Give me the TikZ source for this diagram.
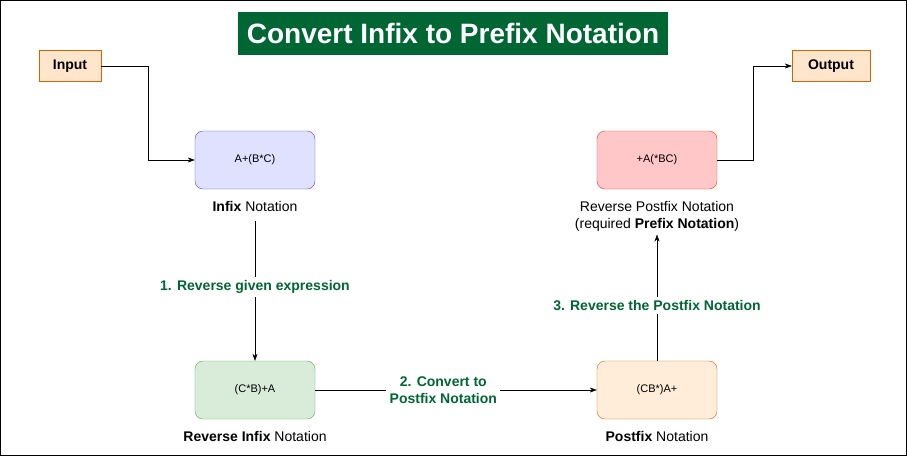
\documentclass[tikz,border=0pt]{standalone}
\usepackage{fontspec}
\setmainfont{Liberation Sans}
\usetikzlibrary{arrows.meta}
\definecolor{tgreen}{HTML}{006633}
\begin{document}
\begin{tikzpicture}[x=1pt,y=-1pt,
  box/.style={draw,rounded corners=8pt,minimum width=120pt,minimum height=58pt,font=\fontsize{11}{13}\selectfont},
  lbl/.style={font=\fontsize{14}{17}\selectfont,align=center},
  stp/.style={font=\fontsize{14}{17}\selectfont\bfseries,text=tgreen,align=center,fill=white},
  arr/.style={-{Stealth[length=7pt,width=5pt]}}]
\draw[line width=1pt] (0.5,0.5) rectangle (906.5,455.5);
\node[fill=tgreen,minimum width=430pt,minimum height=43pt,text=white,font=\fontsize{28}{32}\selectfont\bfseries] (title) at (453,33) {Convert Infix to Prefix Notation};
\node[draw=orange!80!black,fill=orange!20,minimum width=62pt,minimum height=31pt,font=\fontsize{14}{16}\selectfont\bfseries] (in) at (70,66) {Input};
\node[draw=orange!80!black,fill=orange!20,minimum width=78pt,minimum height=31pt,font=\fontsize{14}{16}\selectfont\bfseries] (out) at (831,66) {Output};
\node[box,draw=blue!40!gray,fill=blue!12] (inf) at (255,160) {A+(B*C)};
\node[lbl] (infl) at (255,206) {\textbf{Infix} Notation};
\node[box,draw=green!40!gray,fill=green!50!black!15] (rinf) at (255,390) {(C*B)+A};
\node[lbl] (rinfl) at (255,436) {\textbf{Reverse Infix} Notation};
\node[box,draw=orange!80!black,fill=orange!15] (post) at (657,390) {(CB*)A+};
\node[lbl] (postl) at (657,436) {\textbf{Postfix} Notation};
\node[box,draw=red!50!brown,fill=red!22] (pre) at (657,160) {+A(*BC)};
\node[lbl] (prel) at (657,216) {Reverse Postfix Notation\\(required \textbf{Prefix Notation})};
\coordinate (a1) at (255,221);
\draw[arr] (in.east) -- (148,66) |- (inf.west);
\draw[arr] (a1) -- (rinf.north) node[stp,pos=0.47] {1. Reverse given expression};
\draw[arr] (rinf.east) -- (post.west) node[stp,pos=0.455] {2. Convert to\\Postfix Notation};
\draw[arr] (post.north) -- (prel.south) node[stp,pos=0.44] {3. Reverse the Postfix Notation};
\draw[arr] (pre.east) -- (753,160) |- (out.west);
\end{tikzpicture}
\end{document}
